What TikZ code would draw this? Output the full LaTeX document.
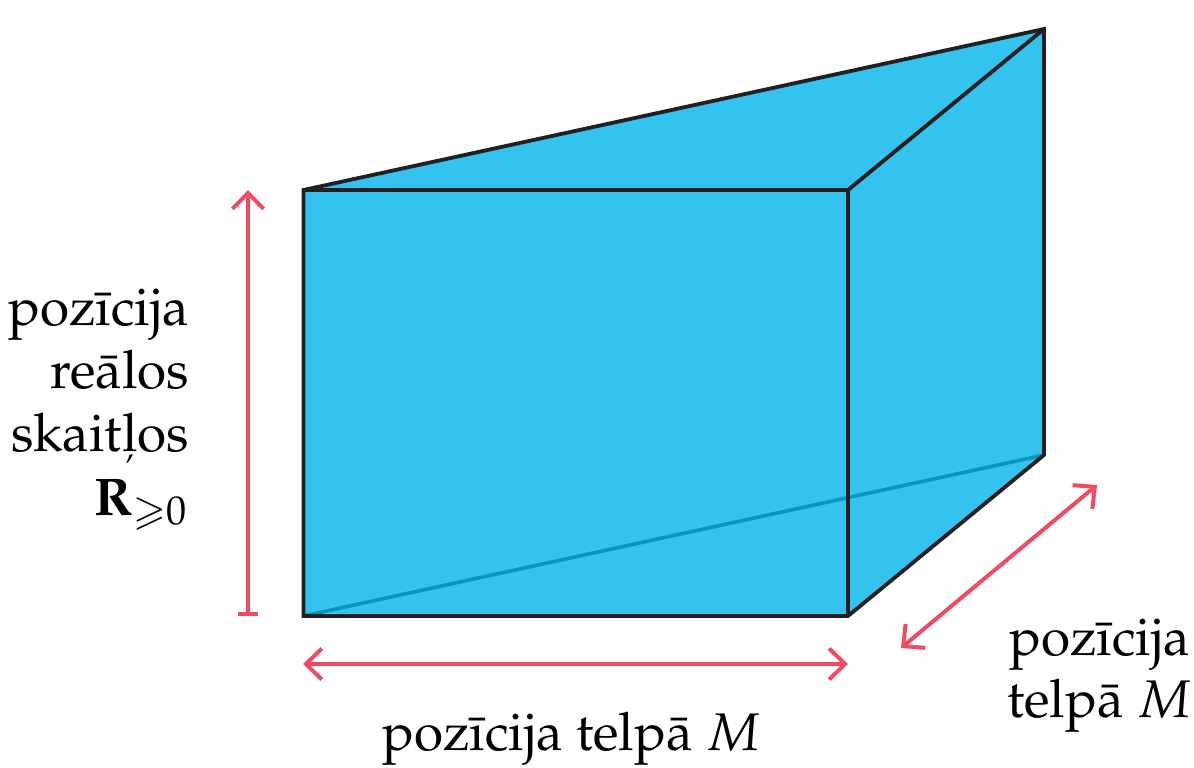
\documentclass[tikz,border=0pt]{standalone}
\usepackage[T1]{fontenc}
\usepackage{amssymb}
\usepackage{mathpazo}
\usetikzlibrary{arrows.meta}
\definecolor{boxblue}{HTML}{34C3EE}
\definecolor{innerblue}{HTML}{0A94C1}
\definecolor{edgeblack}{HTML}{231F20}
\definecolor{arrowred}{HTML}{EE4C63}
\tikzset{
  face/.style={fill=boxblue,draw=none},
  edgeline/.style={draw=edgeblack,line width=3.8pt,line join=miter},
  innerline/.style={draw=innerblue,line width=3.6pt},
  openhead/.tip={Straight Barb[length=16pt,width=31pt,line width=4pt]},
  dimline/.style={draw=arrowred,line width=4pt},
  lbl/.style={font=\fontsize{53}{63}\selectfont,inner sep=0pt,outer sep=0pt,anchor=base east}
}
\begin{document}
\begin{tikzpicture}[x=1pt,y=-1pt]
\useasboundingbox (0,0) rectangle (1194,768);
\coordinate (ftl) at (303.5,190);
\coordinate (ftr) at (848,190);
\coordinate (fbl) at (303.5,616);
\coordinate (fbr) at (848,616);
\coordinate (btr) at (1044,29);
\coordinate (bbr) at (1044,455);
\fill[face] (ftl) -- (btr) -- (bbr) -- (fbr) -- (fbl) -- cycle;
\draw[innerline] (fbl) -- (bbr);
\draw[edgeline] (ftl) -- (btr) -- (bbr) -- (fbr) -- (fbl) -- cycle;
\draw[edgeline] (ftl) -- (ftr) -- (fbr);
\draw[edgeline] (ftr) -- (btr);
\coordinate (va) at (248,616);
\coordinate (vb) at (248,190);
\coordinate (ha) at (303,664);
\coordinate (hb) at (848,664);
\coordinate (da) at (901,648);
\coordinate (db) at (1097,485);
\draw[dimline,{Bar[width=20pt,line width=4pt]}-{openhead}] (va) -- (vb);
\draw[dimline,{openhead}-{openhead}] (ha) -- (hb);
\draw[dimline,{openhead}-{openhead}] (da) -- (db);
\node[lbl] (l1) at (189,325) {poz\=\i cija};
\node[lbl] (l2) at (189,388) {re\=alos};
\node[lbl] (l3) at (189,451) {skait\c{l}os};
\node[lbl] (l4) at (187,515) {$\mathbf{R}_{\geqslant 0}$};
\node[lbl] (b1) at (760,750) {poz\=\i cija telp\=a $M$};
\node[lbl] (r1) at (1190,655) {poz\=\i cija};
\node[lbl] (r2) at (1191,717) {telp\=a $M$};
\end{tikzpicture}
\end{document}
